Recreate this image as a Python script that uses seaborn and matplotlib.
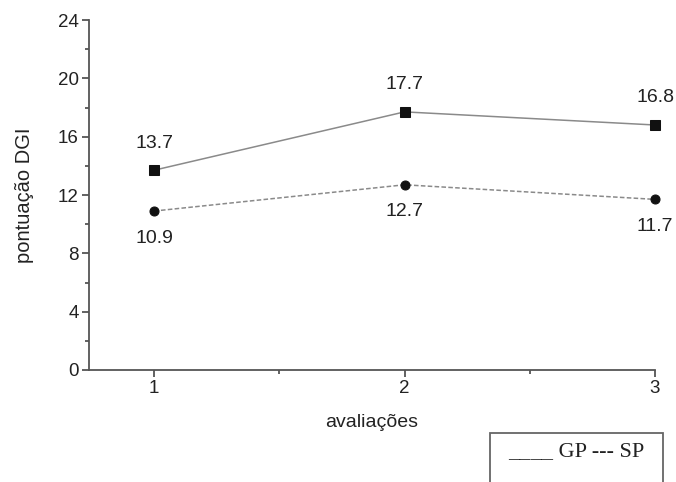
import matplotlib
matplotlib.use("Agg")
import matplotlib.pyplot as plt
import seaborn as sns
import pandas as pd
from matplotlib.patches import Rectangle
from matplotlib.ticker import MultipleLocator

avaliacoes = [1, 2, 3]
gp = [13.7, 17.7, 16.8]
sp = [10.9, 12.7, 11.7]

sns.set_style("ticks")
plt.rcParams['font.family'] = ['Liberation Sans', 'DejaVu Sans']

df = pd.DataFrame({"avaliacoes": avaliacoes * 2,
                   "valor": gp + sp,
                   "grupo": ["GP"] * 3 + ["SP"] * 3})

fig = plt.figure(figsize=(6.76, 4.82), dpi=100)
ax = fig.add_axes([89/676, 112/482, (655-89)/676, 350/482])

axis_c = "#555555"
sns.lineplot(data=df[df.grupo == "GP"], x="avaliacoes", y="valor", ax=ax,
             color="#8a8a8a", lw=1.1, marker="s", markersize=6.5,
             markerfacecolor="#111111", markeredgecolor="#111111", clip_on=False)
sns.lineplot(data=df[df.grupo == "SP"], x="avaliacoes", y="valor", ax=ax,
             color="#8a8a8a", lw=1.1, linestyle=(0, (3, 1.5)), marker="o", markersize=6.5,
             markerfacecolor="#111111", markeredgecolor="#111111", clip_on=False)

for x, v in zip(avaliacoes, gp):
    ax.annotate(f"{v}", (x, v), xytext=(0, 19.5), textcoords="offset points",
                ha="center", va="center", fontsize=14, color="#222222")
for x, v in zip(avaliacoes, sp):
    ax.annotate(f"{v}", (x, v), xytext=(0, -19.5), textcoords="offset points",
                ha="center", va="center", fontsize=14, color="#222222")

ax.set_xlim(0.74, 3.0)
ax.set_ylim(0, 24)
ax.set_xticks([1, 2, 3])
ax.xaxis.set_minor_locator(MultipleLocator(0.5))
ax.set_yticks([0, 4, 8, 12, 16, 20, 24])
ax.yaxis.set_minor_locator(MultipleLocator(2))
for s in ["top", "right"]:
    ax.spines[s].set_visible(False)
for s in ["left", "bottom"]:
    ax.spines[s].set_color(axis_c)
    ax.spines[s].set_linewidth(1.3)
ax.tick_params(which="major", length=5, width=1.3, color=axis_c, labelsize=13.5,
               labelcolor="#222222", pad=2.5)
ax.tick_params(which="minor", length=3, width=1.3, color=axis_c)
ax.set_xlabel("avaliações", fontsize=14, color="#222222", labelpad=12)
ax.set_ylabel("pontuação DGI", fontsize=14.5, color="#222222", labelpad=17)

fig.patches.append(Rectangle((490/676, -0.02), 173/676, (482-433)/482 + 0.02,
                             transform=fig.transFigure, fill=False,
                             edgecolor="#666666", lw=1.3))
fig.text(576/676, 1 - 452/482, "____ GP --- SP", ha="center", va="center",
         fontsize=16, family=["Liberation Serif", "DejaVu Serif"], color="#222222")

fig.savefig("out.png", dpi=100)
